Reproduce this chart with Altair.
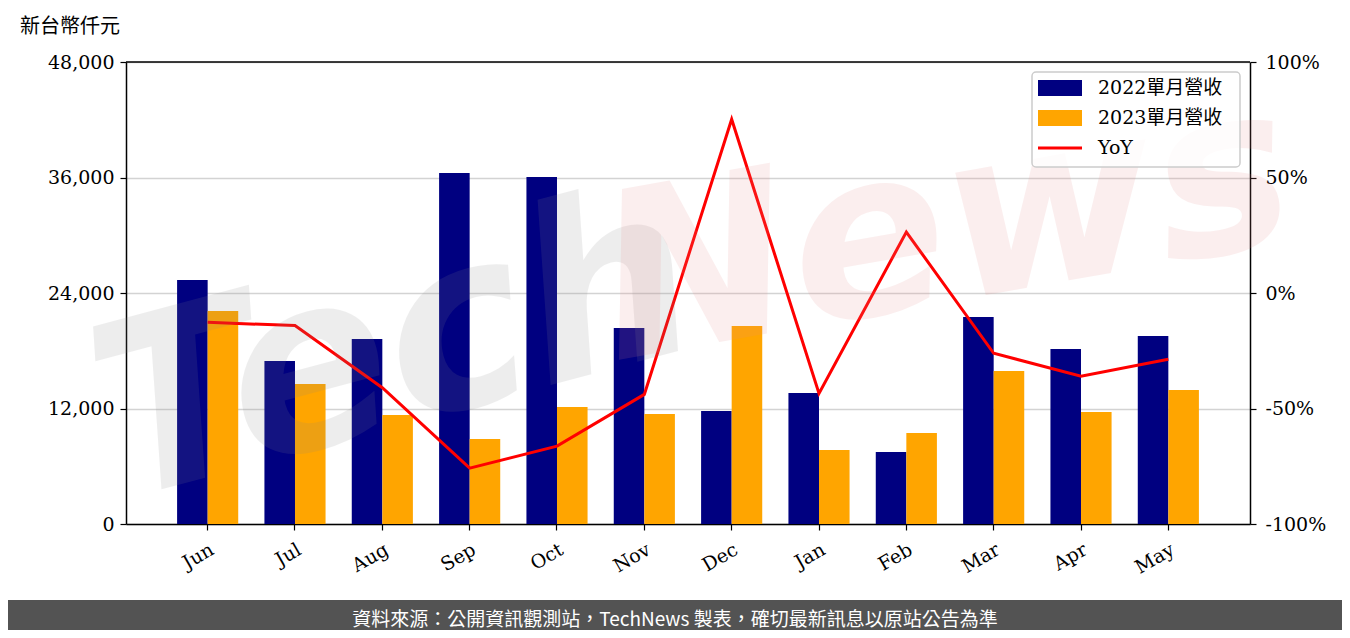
import altair as alt
import pandas as pd

months = ["Jun", "Jul", "Aug", "Sep", "Oct", "Nov", "Dec", "Jan", "Feb", "Mar", "Apr", "May"]
rev_2022 = [25350, 16935, 19220, 36470, 36050, 20360, 11740, 13610, 7480, 21500, 18180, 19530]
rev_2023 = [22130, 14545, 11325, 8830, 12160, 11430, 20570, 7690, 9455, 15900, 11640, 13920]
yoy = [-12.7, -14.1, -41.0, -75.8, -66.3, -43.9, 75.2, -43.5, 26.4, -26.1, -36.0, -28.7]
series_names = ["2022單月營收", "2023單月營收"]
legend_labels = ["2022單月營收", "2023單月營收", "YoY"]
unit_label = "新台幣仟元"
footer_text = "資料來源：公開資訊觀測站，TechNews 製表，確切最新訊息以原站公告為準"

NAVY = "#000080"
ORANGE = "#FFA500"
RED = "#FF0000"
SERIF = "DejaVu Serif, Noto Sans CJK TC"
CJK = "Noto Sans CJK TC"

W, H = 1124, 462

rows = []
for m, a, b in zip(months, rev_2022, rev_2023):
    rows.append({"month": m, "series": series_names[0], "value": a})
    rows.append({"month": m, "series": series_names[1], "value": b})
bars_df = pd.DataFrame(rows)
line_df = pd.DataFrame({"month": months, "yoy": yoy})

x_enc = alt.X(
    "month:N", sort=months, title=None,
    scale=alt.Scale(paddingInner=0.3, paddingOuter=0.585),
    axis=alt.Axis(labelAngle=-30, labelAlign="right", labelBaseline="top",
                  labelFont=SERIF, labelFontSize=19, labelColor="black",
                  labelPadding=10, domainColor="black", domainWidth=1.5,
                  tickColor="black", tickWidth=1.2, tickSize=6, grid=False),
)

bars = alt.Chart(bars_df).mark_bar().encode(
    x=x_enc,
    xOffset=alt.XOffset("series:N", sort=series_names,
                        scale=alt.Scale(paddingInner=0, paddingOuter=0)),
    y=alt.Y("value:Q", title=None,
            scale=alt.Scale(domain=[0, 48000], nice=False),
            axis=alt.Axis(values=[0, 12000, 24000, 36000, 48000], format=",d",
                          labelFont=SERIF, labelFontSize=19, labelColor="black",
                          labelPadding=6, domainColor="black", domainWidth=1.5,
                          tickColor="black", tickWidth=1.2, tickSize=6,
                          grid=True, gridColor="#d3d3d3", gridWidth=1.5)),
    color=alt.Color("series:N", sort=series_names,
                    scale=alt.Scale(domain=series_names, range=[NAVY, ORANGE]),
                    legend=None),
)

line = alt.Chart(line_df).mark_line(color=RED, strokeWidth=3).encode(
    x=alt.X("month:N", sort=months),
    y=alt.Y("yoy:Q", title=None,
            scale=alt.Scale(domain=[-100, 100], nice=False),
            axis=alt.Axis(orient="right", values=[-100, -50, 0, 50, 100],
                          labelExpr="datum.value + '%'",
                          labelFont=SERIF, labelFontSize=19, labelColor="black",
                          labelPadding=9, domainColor="black", domainWidth=1.5,
                          tickColor="black", tickWidth=1.2, tickSize=6, grid=False)),
)

one = alt.Data(values=[{}])

top_rule = alt.Chart(one).mark_rule(color="black", strokeWidth=1.5).encode(
    x=alt.value(0), x2=alt.value(W), y=alt.value(0))

# watermark
wm_tech = alt.Chart(one).mark_text(
    text="Tech", font="DejaVu Sans", fontSize=240, fontStyle="italic", fontWeight="bold",
    color="#888888", opacity=0.14, angle=345, align="center", baseline="middle"
).encode(x=alt.value(270), y=alt.value(290))
wm_news = alt.Chart(one).mark_text(
    text="News", font="DejaVu Sans", fontSize=230, fontStyle="italic", fontWeight="bold",
    color="#e88a8a", opacity=0.14, angle=350, align="center", baseline="middle"
).encode(x=alt.value(820), y=alt.value(170))

# legend
leg_box = alt.Chart(one).mark_rect(
    fill="white", fillOpacity=0.8, stroke="#cccccc", strokeWidth=1.5, cornerRadius=4
).encode(x=alt.value(906), x2=alt.value(1114), y=alt.value(10), y2=alt.value(105))
leg_sw1 = alt.Chart(one).mark_rect(color=NAVY).encode(
    x=alt.value(912), x2=alt.value(956), y=alt.value(18), y2=alt.value(34))
leg_sw2 = alt.Chart(one).mark_rect(color=ORANGE).encode(
    x=alt.value(912), x2=alt.value(956), y=alt.value(48), y2=alt.value(64))
leg_ln = alt.Chart(one).mark_rule(color=RED, strokeWidth=3).encode(
    x=alt.value(912), x2=alt.value(956), y=alt.value(86))
leg_texts = [
    alt.Chart(one).mark_text(text=t, font=SERIF, fontSize=19, color="black",
                             align="left", baseline="middle").encode(
        x=alt.value(972), y=alt.value(yv))
    for t, yv in zip(legend_labels, [26, 56, 86])
]

unit = alt.Chart(one).mark_text(
    text=unit_label, font=CJK, fontSize=20, color="black", align="left", baseline="middle"
).encode(x=alt.value(-106), y=alt.value(-35))

footer_bg = alt.Chart(one).mark_rect(color="#535353").encode(
    x=alt.value(-130), x2=alt.value(W + 100), y=alt.value(538), y2=alt.value(580))
footer = alt.Chart(one).mark_text(
    text=footer_text, font=CJK, fontSize=19, color="white", align="center", baseline="middle"
).encode(x=alt.value(549), y=alt.value(558))

chart = alt.layer(
    bars, line, wm_tech, wm_news, top_rule, leg_box, leg_sw1, leg_sw2, leg_ln,
    *leg_texts, unit, footer_bg, footer
).resolve_scale(y="independent").properties(
    width=W, height=H,
    padding={"left": 118, "top": 54, "right": 92, "bottom": 106},
    autosize=alt.AutoSizeParams(type="none"),
).configure_view(stroke=None)

chart.save("out.html", embed_options={"renderer": "svg", "actions": False})
